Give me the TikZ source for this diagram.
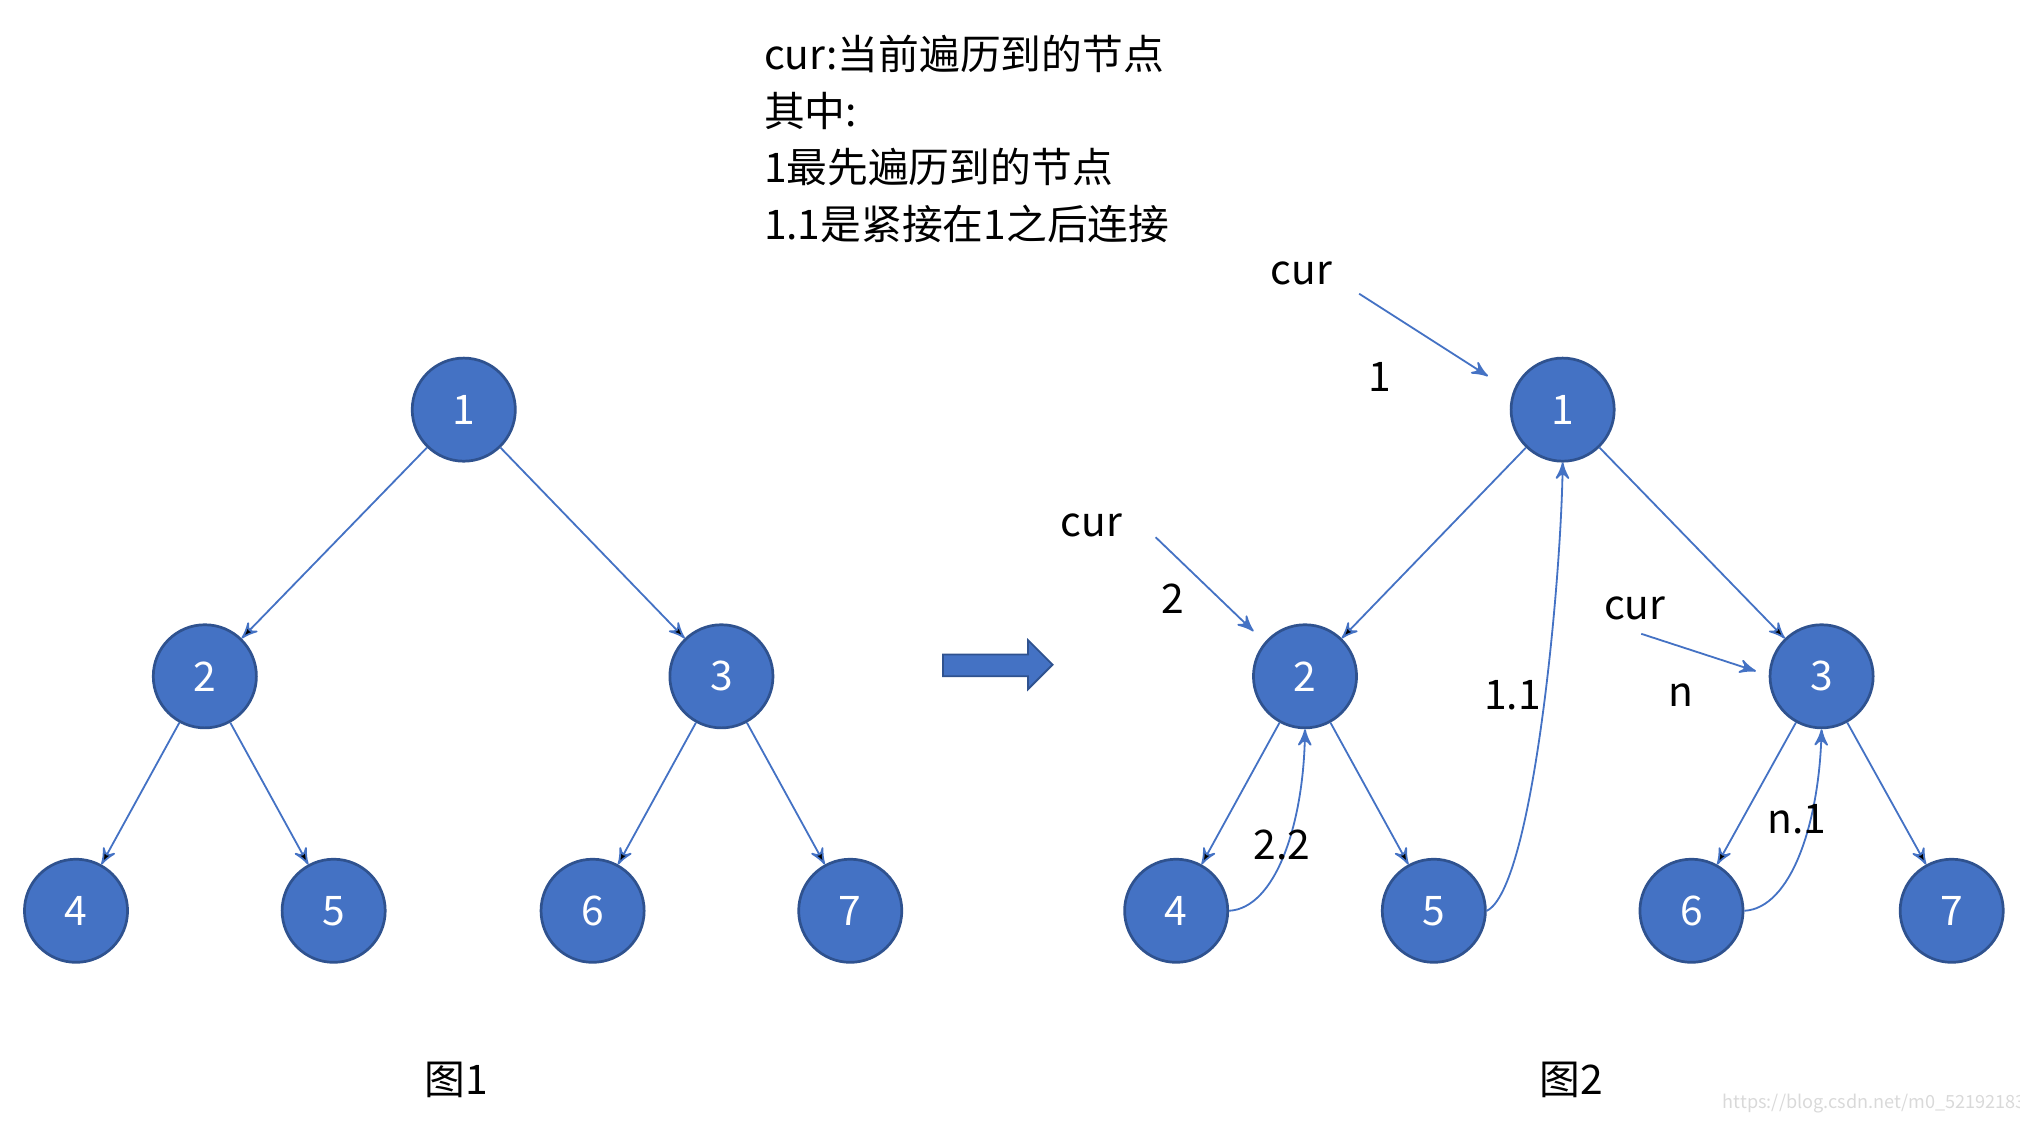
\documentclass[tikz,border=0pt]{standalone}
\usepackage{fontspec}
\setmainfont{Noto Sans CJK SC}
\usetikzlibrary{arrows}
\definecolor{nodeblue}{HTML}{4472C4}
\definecolor{nodeedge}{HTML}{2F528F}
\begin{document}
\begin{tikzpicture}[x=0.01cm,y=-0.01cm,->,>=stealth',semithick,
		font=\fontsize{9}{11}\selectfont]
		\tikzstyle{every node}=[inner sep=0pt]
		\tikzstyle{tnode}=[circle,minimum size=0.8cm,fill=nodeblue,draw=nodeedge,text=white]
		\tikzstyle{edge}=[draw=nodeblue,thin]
		\useasboundingbox (0,0) rectangle (1568,871);
		
		% picture 1
		\node[tnode] (a1) at (360,318) {1};
		\node[tnode] (a2) at (159,525) {2};
		\node[tnode] (a3) at (560,525) {3};
		\node[tnode] (a4) at (59,707)  {4};
		\node[tnode] (a5) at (259,707) {5};
		\node[tnode] (a6) at (460,707) {6};
		\node[tnode] (a7) at (660,707) {7};
		\path[edge] (a1) edge (a2) (a1) edge (a3)
		(a2) edge (a4) (a2) edge (a5)
		(a3) edge (a6) (a3) edge (a7);
		
		% picture 2
		\node[tnode] (b1) at (1213,318) {1};
		\node[tnode] (b2) at (1013,525) {2};
		\node[tnode] (b3) at (1414,525) {3};
		\node[tnode] (b4) at (913,707)  {4};
		\node[tnode] (b5) at (1113,707) {5};
		\node[tnode] (b6) at (1313,707) {6};
		\node[tnode] (b7) at (1515,707) {7};
		\path[edge] (b1) edge (b2) (b1) edge (b3)
		(b2) edge (b4) (b2) edge (b5)
		(b3) edge (b6) (b3) edge (b7);
		\draw[edge] (b4.east) .. controls (990,705) and (1012,640) .. (b2.south);
		\draw[edge] (b5.east) .. controls (1190,690) and (1212,450) .. (b1.south);
		\draw[edge] (b6.east) .. controls (1390,705) and (1412,640) .. (b3.south);
		
		% cur pointers
		\coordinate (c1) at (1055,228);
		\coordinate (c1e) at (1155,292);
		\coordinate (c2) at (897,417);
		\coordinate (c2e) at (973,490);
		\coordinate (c3) at (1274,492);
		\coordinate (c3e) at (1363,521);
		\draw[edge] (c1) -- (c1e);
		\draw[edge] (c2) -- (c2e);
		\draw[edge] (c3) -- (c3e);
		\node (cur1) at (1010,212) {cur};
		\node (cur2) at (847,408) {cur};
		\node (cur3) at (1269,472) {cur};
		\node (l1) at (1071,293) {1};
		\node (l2) at (910,465) {2};
		\node (ln) at (1305,540) {n};
		\node (l11) at (1174,540) {1.1};
		\node (l22) at (995,656) {2.2};
		\node (ln1) at (1395,636) {n.1};
		
		% big arrow
		\fill[nodeblue,draw=nodeedge,thin,-] (732,508) -- (798,508) -- (798,497) -- (817,516)
		-- (798,535) -- (798,525) -- (732,525) -- cycle;
		
		% notes
		\node[anchor=west,align=left,font=\fontsize{9}{12.5}\selectfont] (note) at (592,108)
		{cur:当前遍历到的节点\\其中:\\1最先遍历到的节点\\1.1是紧接在1之后连接};
		\node (cap1) at (354,838) {图1};
		\node (cap2) at (1220,838) {图2};
		\node[text=black!15,font=\fontsize{4}{5}\selectfont] (wm) at (1455,857) {https://blog.csdn.net/m0\_52192183};
		\end{tikzpicture}
\end{document}
